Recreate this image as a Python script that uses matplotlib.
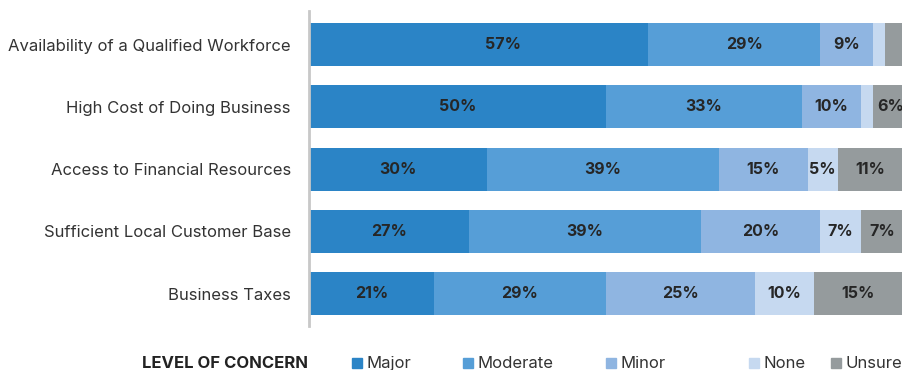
import matplotlib.pyplot as plt
import numpy as np

issues = ['Availability of a Qualified Workforce', 'High Cost of Doing Business',
          'Access to Financial Resources', 'Sufficient Local Customer Base',
          'Business Taxes']
levels = ['Major', 'Moderate', 'Minor', 'None', 'Unsure']
major = [57, 50, 30, 27, 21]
moderate = [29, 33, 39, 39, 29]
minor = [9, 10, 15, 20, 25]
none = [2, 2, 5, 7, 10]
unsure = [3, 6, 11, 7, 15]
# small slivers in the top rows are left unlabelled
show_label = [
    [True, True, True, True, True],
    [True, True, True, True, True],
    [True, True, True, True, True],
    [False, False, True, True, True],
    [False, True, True, True, True],
]
colors = ['#2b84c6', '#569ed7', '#8fb5e1', '#c6d9f0', '#959b9d']

# per-label horizontal nudge (data units), keyed by (level, row)
nudge = {(0, 0): 4.1, (1, 0): 1.8}

plt.rcParams['font.family'] = ['Inter', 'DejaVu Sans']

fig = plt.figure(figsize=(9.03, 3.70), dpi=100)
ax = fig.add_axes([0.3422, 0.1189, 0.6578, 0.8514])

y = np.arange(len(issues))
left = np.zeros(len(issues))
for i, vals in enumerate([major, moderate, minor, none, unsure]):
    vals = np.array(vals, dtype=float)
    ax.barh(y, vals, left=left, height=0.69, color=colors[i], linewidth=0)
    for j, v in enumerate(vals):
        if show_label[i][j]:
            xc = left[j] + v / 2 + nudge.get((i, j), 0)
            ax.text(xc, y[j], f'{int(v)}%', ha='center', va='center',
                    fontsize=11.5, fontweight='bold', color='#262626')
    left += vals

ax.set_xlim(0, 100)
ax.set_ylim(4.52, -0.54)
ax.set_yticks(y)
ax.set_yticklabels(issues, fontsize=12, color='#333333')
ax.tick_params(axis='y', length=0, pad=13)
ax.set_xticks([])
for s in ['top', 'right', 'bottom']:
    ax.spines[s].set_visible(False)
ax.spines['left'].set_color('#c8c8c8')
ax.spines['left'].set_linewidth(2)

# legend row along the bottom
fig.text(308 / 903, 1 - 363 / 370, 'LEVEL OF CONCERN', ha='right', va='center',
         fontsize=12, fontweight='bold', color='#222222')
sq_x = [352, 463, 606, 749, 831]
for xp, lab, c in zip(sq_x, levels, colors):
    fig.patches.append(plt.Rectangle((xp / 903, 1 - 368 / 370), 10 / 903, 10 / 370,
                                     transform=fig.transFigure, color=c))
    fig.text((xp + 15) / 903, 1 - 363.5 / 370, lab, ha='left', va='center',
             fontsize=12, color='#333333')

fig.savefig('out.png', dpi=100)
